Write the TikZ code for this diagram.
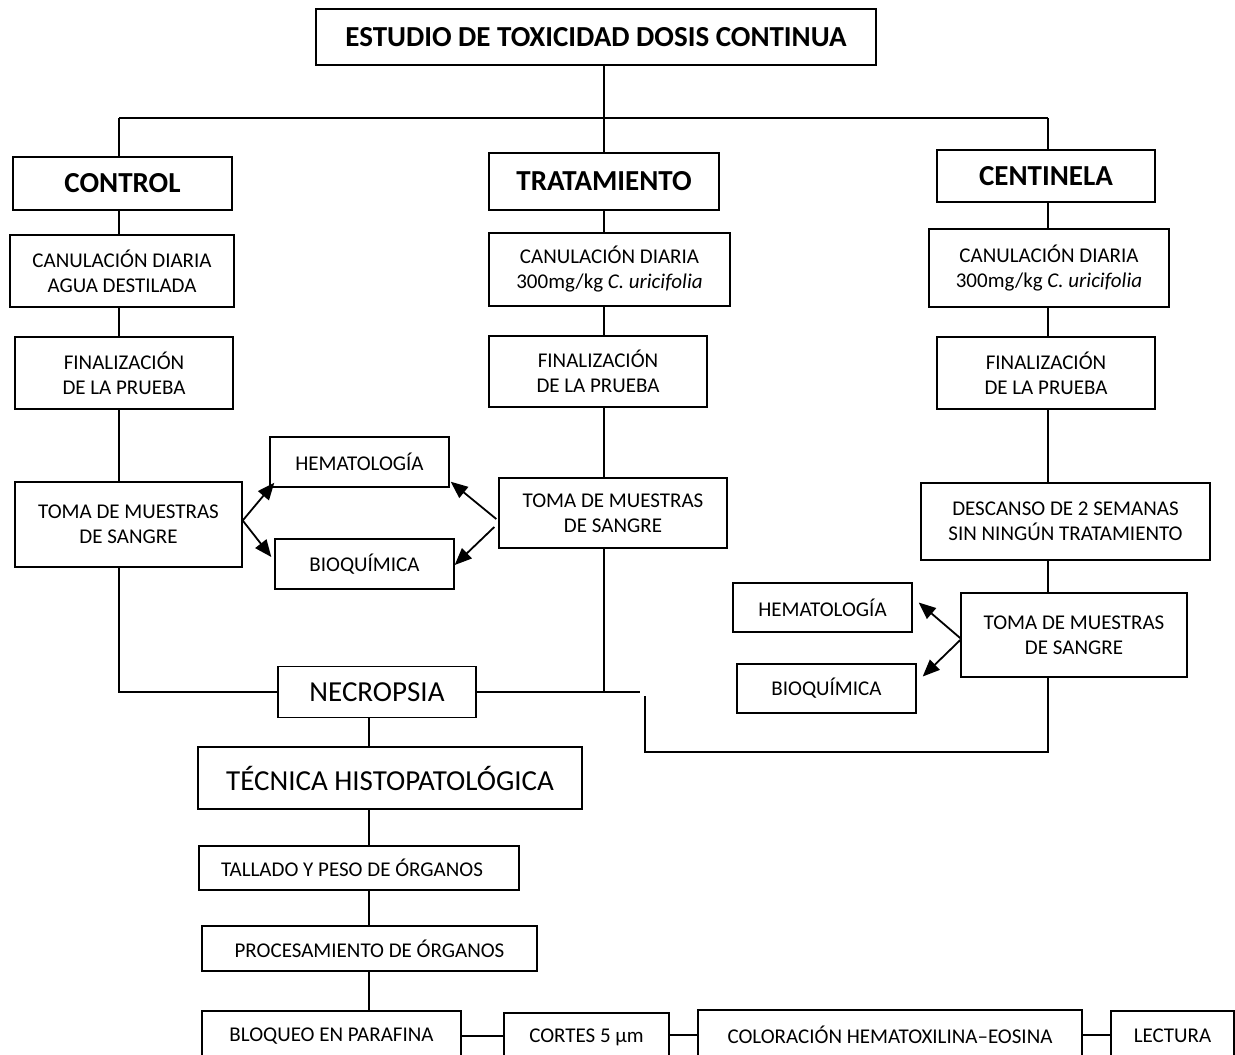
\documentclass[tikz,border=0pt]{standalone}
\usepackage{fontspec}
\setmainfont{Carlito}
\usetikzlibrary{arrows.meta,calc}
\begin{document}
\begin{tikzpicture}[x=1pt,y=-1pt,
  box/.style={draw, line width=1.4pt, inner sep=0pt, align=center, font=\fontsize{21}{25}\selectfont},
  head/.style={box, font=\fontsize{29}{34}\selectfont\bfseries},
  big/.style={box, font=\fontsize{29}{34}\selectfont},
  conn/.style={line width=2pt},
  arr/.style={line width=1.8pt, -{Triangle[length=17pt,width=14pt]}}
]
\useasboundingbox (0,0) rectangle (1235,1055);
% columns
\coordinate (colA) at (119,0);
\coordinate (colB) at (604,0);
\coordinate (colC) at (1048,0);
\coordinate (colD) at (369,0);
\coordinate (hbar) at (0,118);
\coordinate (jog) at (640,692);
\coordinate (jogtop) at (645,696);
\coordinate (bot) at (645,752);

\node[head, minimum width=560, minimum height=56] (title) at (596,37) {ESTUDIO DE TOXICIDAD DOSIS CONTINUA};
\node[head, minimum width=219, minimum height=53] (ctrl) at (122.5,183.5) {CONTROL};
\node[head, minimum width=230, minimum height=57] (trat) at (604,181.5) {TRATAMIENTO};
\node[head, minimum width=218, minimum height=52] (cent) at (1046,176) {CENTINELA};

\node[box, minimum width=224, minimum height=72] (can1) at (122,271) {CANULACIÓN DIARIA\\AGUA DESTILADA};
\node[box, minimum width=241, minimum height=73] (can2) at (609.5,269.5) {CANULACIÓN DIARIA\\300mg/kg \textit{C. uricifolia}};
\node[box, minimum width=240, minimum height=78] (can3) at (1049,268) {CANULACIÓN DIARIA\\300mg/kg \textit{C. uricifolia}};

\node[box, minimum width=218, minimum height=72] (fin1) at (124,373) {FINALIZACIÓN\\DE LA PRUEBA};
\node[box, minimum width=218, minimum height=71] (fin2) at (598,371.5) {FINALIZACIÓN\\DE LA PRUEBA};
\node[box, minimum width=218, minimum height=72] (fin3) at (1046,373) {FINALIZACIÓN\\DE LA PRUEBA};

\node[box, minimum width=227, minimum height=85] (toma1) at (128.5,524.5) {TOMA DE MUESTRAS\\DE SANGRE};
\node[box, minimum width=179, minimum height=50] (hem1) at (359.5,462) {HEMATOLOGÍA};
\node[box, minimum width=179, minimum height=50] (bio1) at (364.5,564) {BIOQUÍMICA};
\node[box, minimum width=228, minimum height=70] (toma2) at (613,513) {TOMA DE MUESTRAS\\DE SANGRE};

\node[box, minimum width=289, minimum height=77] (desc) at (1065.5,521.5) {DESCANSO DE 2 SEMANAS\\SIN NINGÚN TRATAMIENTO};
\node[box, minimum width=179, minimum height=49] (hem3) at (822.5,607.5) {HEMATOLOGÍA};
\node[box, minimum width=179, minimum height=49] (bio3) at (826.5,688.5) {BIOQUÍMICA};
\node[box, minimum width=226, minimum height=84] (toma3) at (1074,635) {TOMA DE MUESTRAS\\DE SANGRE};

\node[big, minimum width=198, minimum height=51] (necro) at (377,692) {NECROPSIA};
\node[big, minimum width=384, minimum height=62] (tecn) at (390,778) {TÉCNICA HISTOPATOLÓGICA};
\node[box, minimum width=320, minimum height=44] (tall) at (359,868) {TALLADO Y PESO DE ÓRGANOS\hspace*{14pt}};
\node[box, minimum width=335, minimum height=45] (proc) at (369.5,948.5) {PROCESAMIENTO DE ÓRGANOS};
\node[box, minimum width=259, minimum height=50] (bloq) at (331.5,1036) {BLOQUEO EN PARAFINA};
\node[box, minimum width=165, minimum height=48] (cort) at (586.5,1037) {CORTES 5 µm};
\node[box, minimum width=384, minimum height=50] (color) at (890,1035) {COLORACIÓN HEMATOXILINA–EOSINA};
\node[box, minimum width=123, minimum height=49] (lect) at (1172.5,1035.5) {LECTURA};

% top tree
\draw[conn] (title.south -| colB) -- (colB |- hbar);
\draw[conn] (colA |- hbar) -- (colC |- hbar);
\draw[conn] (colA |- hbar) -- (ctrl.north -| colA);
\draw[conn] (colB |- hbar) -- (trat.north -| colB);
\draw[conn] (colC |- hbar) -- (cent.north -| colC);

% control column
\draw[conn] (ctrl.south -| colA) -- (can1.north -| colA);
\draw[conn] (can1.south -| colA) -- (fin1.north -| colA);
\draw[conn] (fin1.south -| colA) -- (toma1.north -| colA);
\draw[conn] (toma1.south -| colA) -- (colA |- necro.west) -- (necro.west);

% treatment column
\draw[conn] (trat.south -| colB) -- (can2.north -| colB);
\draw[conn] (can2.south -| colB) -- (fin2.north -| colB);
\draw[conn] (fin2.south -| colB) -- (toma2.north -| colB);
\draw[conn] (toma2.south -| colB) -- (colB |- necro.east);
\draw[conn] (necro.east) -- (jog);

% sentinel column
\draw[conn] (cent.south -| colC) -- (can3.north -| colC);
\draw[conn] (can3.south -| colC) -- (fin3.north -| colC);
\draw[conn] (fin3.south -| colC) -- (desc.north -| colC);
\draw[conn] (desc.south -| colC) -- (toma3.north -| colC);
\draw[conn] (toma3.south -| colC) -- (colC |- bot) -- (bot) -- (jogtop);

% arrows
\draw[arr] (toma1.east) ++(0,-4) coordinate (a1) -- ($(hem1.south west)+(5,-5)$);
\draw[arr] (a1) -- ($(bio1.west)+(-3,-7)$);
\draw[arr] ($(toma2.west)+(-2,6)$) -- ($(hem1.south east)+(1,-6)$);
\draw[arr] ($(toma2.west)+(-4,14)$) -- ($(bio1.east)+(0,1)$);
\draw[arr] ($(toma3.west)+(1,4)$) coordinate (a3) -- ($(hem3.east)+(6,-5)$);
\draw[arr] (a3) -- ($(bio3.east)+(6,-12)$);

% bottom chain
\draw[conn] (necro.south -| colD) -- (tecn.north -| colD);
\draw[conn] (tecn.south -| colD) -- (tall.north -| colD);
\draw[conn] (tall.south -| colD) -- (proc.north -| colD);
\draw[conn] (proc.south -| colD) -- (bloq.north -| colD);
\draw[conn] (bloq.east) -- (cort.west |- bloq.east);
\draw[conn] (cort.east |- color.west) -- (color.west);
\draw[conn] (color.east) -- (lect.west |- color.east);
\end{tikzpicture}
\end{document}
